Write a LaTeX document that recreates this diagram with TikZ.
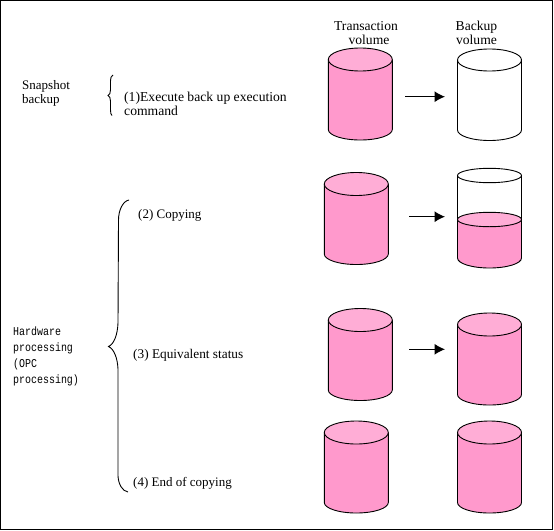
\documentclass[tikz,border=0pt]{standalone}
\usepackage{fontspec}
\setmainfont{Liberation Serif}
\setmonofont[FakeStretch=0.83]{Liberation Mono}
\usetikzlibrary{arrows.meta}

\tikzset{
  label/.style={inner sep=0pt,anchor=west,align=left,font=\fontsize{13}{14}\selectfont},
  side/.style={inner sep=0pt,anchor=north west,align=left,font=\fontsize{12}{15.8}\selectfont\ttfamily},
  head/.style={inner sep=0pt,align=center,font=\fontsize{13.6}{14}\selectfont},
  flow/.style={->,line width=1pt},
  bracket/.style={line width=0.9pt},
  wall/.style={draw=black,line width=0.9pt}
}
\definecolor{volbody}{HTML}{FF99CC}
\definecolor{voltop}{HTML}{FFADD6}

\begin{document}
\begin{tikzpicture}[x=1pt,y=-1pt,>={Latex[length=10.5pt,width=11pt]}]
  \useasboundingbox (0,0) rectangle (554,530);
  \draw[line width=1.4pt] (0.5,0.5) rectangle (552.5,529.3);
  % texts
  \node[head] (tname) at (366,33) {Transaction\\ \hspace{6pt}volume};
  \node[head] (bname) at (476.5,33) {Backup\\volume};
  \node[label] (snap) at (22,93) {Snapshot\\backup};
  \node[label,font=\fontsize{13.65}{14}\selectfont] (cmd) at (124,104) {(1)Execute back up execution\\command};
  \node[label] (copy) at (138,215) {(2) Copying};
  \node[label,font=\fontsize{13.3}{14}\selectfont] (equiv) at (133,355) {(3) Equivalent status};
  \node[label] (endc) at (133,483) {(4) End of copying};
  \node[side] (hard) at (13,327) {Hardware\\processing\\(OPC\\processing)};
  % braces
  \draw[bracket] (113,75) .. controls (111,76) and (110.5,78) .. (110.5,81) -- (110.5,90)
    .. controls (110.5,93) and (109.5,95) .. (108,95.5) .. controls (109.5,96) and (110.5,98) .. (110.5,101)
    -- (110.5,110) .. controls (110.5,113) and (111,115) .. (112,115.5);
  \draw[bracket] (129,200) .. controls (123,201) and (118.5,210) .. (118.5,220) -- (118,323)
    .. controls (117.5,335) and (114,344) .. (108.5,346.5) .. controls (114,349) and (117.5,358) .. (118,369)
    -- (118,476) .. controls (118.5,484) and (122,491) .. (128,492);
  % filled volumes
  \foreach \cx/\cy in {360.3/59.5,356.3/184,360.3/320,489.5/324.5,356.3/432.5,489.5/432.5}{
    \fill[volbody] (\cx-32,\cy) -- (\cx-32,\cy+70) arc[start angle=180,end angle=0,x radius=32,y radius=10.5] -- (\cx+32,\cy) -- cycle;
    \draw[wall] (\cx-32,\cy) -- (\cx-32,\cy+70) arc[start angle=180,end angle=0,x radius=32,y radius=10.5] -- (\cx+32,\cy);
    \draw[wall,fill=voltop] (\cx,\cy) ellipse[x radius=32,y radius=11.5];
  }
  % empty volume
  \draw[wall] (457.5,60) -- (457.5,130) arc[start angle=180,end angle=0,x radius=32,y radius=10.5] -- (521.5,60);
  \draw[wall] (489.5,60) ellipse[x radius=32,y radius=11];
  % half volume
  \fill[volbody] (457.5,219.5) -- (457.5,258) arc[start angle=180,end angle=0,x radius=32,y radius=10] -- (521.5,219.5) -- cycle;
  \draw[wall] (457.5,175.5) -- (457.5,258) arc[start angle=180,end angle=0,x radius=32,y radius=10] -- (521.5,175.5);
  \draw[wall] (489.5,175.5) ellipse[x radius=32,y radius=7.2];
  \draw[wall,fill=voltop] (489.5,219.5) ellipse[x radius=32,y radius=7.2];
  % arrows
  \coordinate (a1) at (405,96.7); \coordinate (b1) at (445,96.7);
  \coordinate (a2) at (409,216.7); \coordinate (b2) at (445,216.7);
  \coordinate (a3) at (409,349.3); \coordinate (b3) at (445,349.3);
  \draw[flow] (a1) -- (b1);
  \draw[flow] (a2) -- (b2);
  \draw[flow] (a3) -- (b3);
\end{tikzpicture}
\end{document}
